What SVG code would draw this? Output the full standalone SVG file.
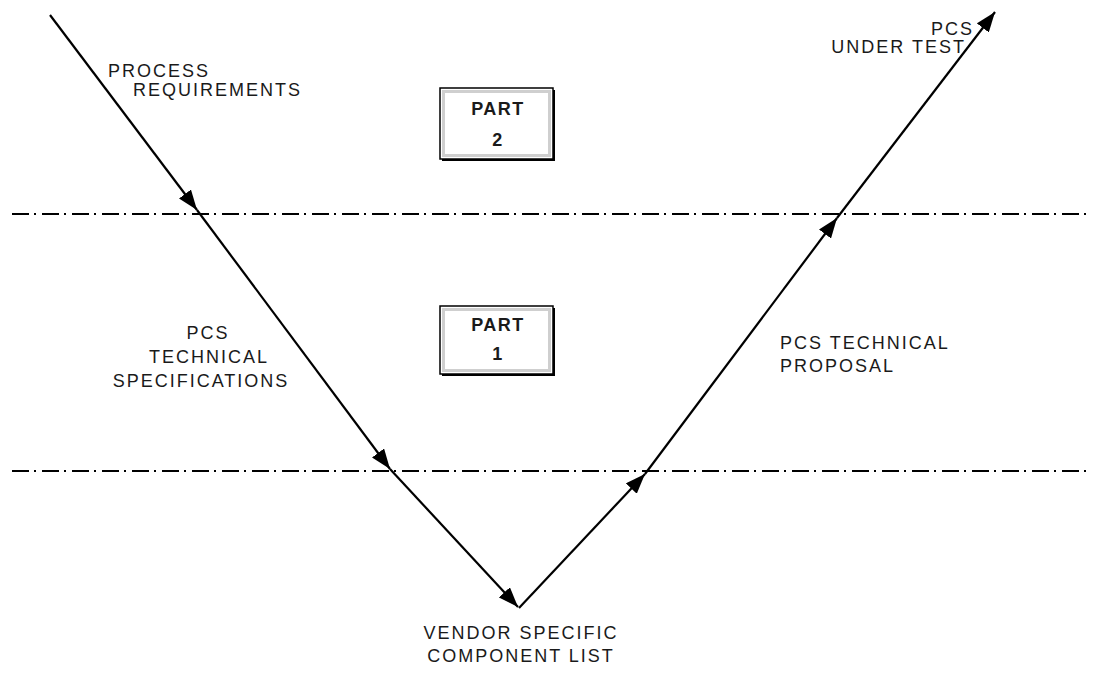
<svg xmlns="http://www.w3.org/2000/svg" width="1097" height="690" viewBox="0 0 1097 690">
<style>
.lbl{font-family:"Liberation Sans",Arial,sans-serif;font-size:18px;letter-spacing:2px;fill:#1a1a1a}
.part{font-family:"Liberation Sans",Arial,sans-serif;font-size:18px;letter-spacing:1.5px;font-weight:bold;fill:#1a1a1a;text-anchor:middle}
.flow{stroke:#000;stroke-width:2.2;fill:none;marker-end:url(#ah)}
.dash{stroke:#000;stroke-width:1.8;stroke-dasharray:17 5 2 6;fill:none}
.boxo{fill:#fff;stroke:#000;stroke-width:1.5}
.boxi{fill:none;stroke:#cfcfcf;stroke-width:3}
.shad{fill:#000}
</style>
<defs>
<marker id="ah" markerUnits="userSpaceOnUse" markerWidth="21" markerHeight="15" refX="20" refY="7.5" orient="auto">
<path d="M0,0 L20,7.5 L0,15 Z" fill="#000"/>
</marker>
</defs>
<rect width="1097" height="690" fill="#fff"/>
<g id="phase-lines">
<line class="dash" x1="12" y1="214" x2="1092" y2="214"/>
<line class="dash" x1="12" y1="471" x2="1092" y2="471"/>
</g>
<g id="connectors">
<line class="flow" x1="50" y1="15" x2="197" y2="210"/>
<line class="flow" x1="197" y1="210" x2="390" y2="469"/>
<line class="flow" x1="390" y1="469" x2="518" y2="607"/>
<line class="flow" x1="519" y1="608" x2="645" y2="474"/>
<line class="flow" x1="645" y1="474" x2="837" y2="218"/>
<line class="flow" x1="837" y1="218" x2="995" y2="12"/>
</g>
<g id="part2">
<rect class="shad" x="442" y="90" width="113" height="71"/>
<rect class="boxo" x="440" y="88" width="113" height="71"/>
<rect class="boxi" x="443.5" y="91.5" width="106" height="64"/>
<text class="part" x="498" y="115">PART</text>
<text class="part" x="498" y="146">2</text>
</g>
<g id="part1">
<rect class="shad" x="442" y="308" width="113" height="68"/>
<rect class="boxo" x="440" y="306" width="113" height="68"/>
<rect class="boxi" x="443.5" y="309.5" width="106" height="61"/>
<text class="part" x="498" y="331">PART</text>
<text class="part" x="498" y="360">1</text>
</g>
<g id="label-process-requirements">
<text class="lbl" x="108" y="77">PROCESS</text>
<text class="lbl" x="133" y="96">REQUIREMENTS</text>
</g>
<g id="label-pcs-tech-spec">
<text class="lbl" x="208" y="339" text-anchor="middle">PCS</text>
<text class="lbl" x="209" y="363" text-anchor="middle">TECHNICAL</text>
<text class="lbl" x="201" y="387" text-anchor="middle">SPECIFICATIONS</text>
</g>
<g id="label-vendor">
<text class="lbl" x="521" y="639" text-anchor="middle">VENDOR SPECIFIC</text>
<text class="lbl" x="521" y="662" text-anchor="middle">COMPONENT LIST</text>
</g>
<g id="label-proposal">
<text class="lbl" x="780" y="349">PCS TECHNICAL</text>
<text class="lbl" x="780" y="372">PROPOSAL</text>
</g>
<g id="label-under-test">
<text class="lbl" x="974" y="35" text-anchor="end">PCS</text>
<text class="lbl" x="966" y="53" text-anchor="end">UNDER TEST</text>
</g>
</svg>
